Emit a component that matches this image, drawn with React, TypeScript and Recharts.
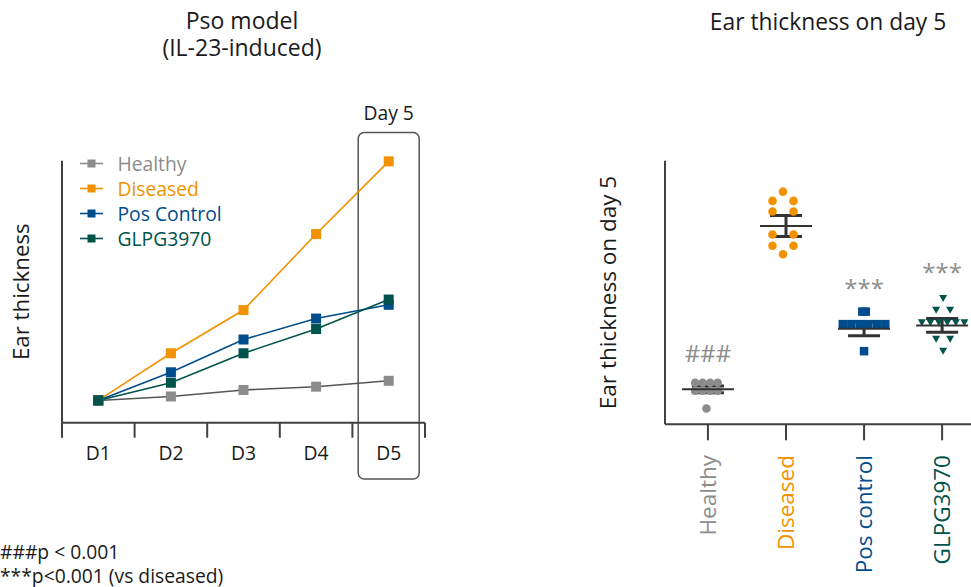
import React from 'react';
import {
  LineChart,
  Line,
  XAxis,
  YAxis,
  Legend,
  ReferenceArea,
  ScatterChart,
  Scatter,
  ErrorBar,
  ReferenceDot,
} from 'recharts';

const FONT = '"Open Sans", "Noto Sans", sans-serif';
const AXIS = '#404040';
const GRAY = '#8c8c8c';
const GRAY_LINE = '#555555';
const ORANGE = '#f39200';
const BLUE = '#004c8c';
const GREEN = '#00534b';

// time course (left panel)
const days = ['D1', 'D2', 'D3', 'D4', 'D5'];
const healthyTrend = [0.34, 0.4, 0.5, 0.55, 0.64];
const diseasedTrend = [0.34, 1.06, 1.72, 2.88, 3.99];
const posControlTrend = [0.34, 0.77, 1.27, 1.59, 1.8];
const glpgTrend = [0.34, 0.61, 1.06, 1.43, 1.88];

// day 5 individual animals (right panel)
const groups = ['Healthy', 'Diseased', 'Pos control', 'GLPG3970'];
const healthyDay5 = [0.63, 0.63, 0.63, 0.63, 0.51, 0.51, 0.51, 0.51, 0.24];
const diseasedDay5 = [3.53, 3.39, 3.39, 3.23, 3.23, 2.88, 2.88, 2.71, 2.71, 2.58];
const posControlDay5 = [1.71, 1.71, 1.52, 1.52, 1.52, 1.52, 1.52, 1.52, 1.11];
const glpgDay5 = [1.91, 1.73, 1.73, 1.54, 1.54, 1.54, 1.54, 1.54, 1.54, 1.29, 1.29, 1.11];
const groupMeans = [0.53, 3.01, 1.45, 1.5];
const groupSems = [0.05, 0.16, 0.105, 0.105];
const significance = ['###', '', '***', '***'];
const significanceHeight = [1.08, 0, 2.06, 2.31];

const trendData = days.map((d, i) => ({
  x: i + 1,
  healthy: healthyTrend[i],
  diseased: diseasedTrend[i],
  pos: posControlTrend[i],
  glpg: glpgTrend[i],
}));

const trendSeries = [
  { key: 'healthy', name: 'Healthy', color: GRAY, line: GRAY_LINE },
  { key: 'diseased', name: 'Diseased', color: ORANGE, line: ORANGE },
  { key: 'pos', name: 'Pos Control', color: BLUE, line: BLUE },
  { key: 'glpg', name: 'GLPG3970', color: GREEN, line: GREEN },
];

// left plot: x 62..425, y 160.7..422.7
const L_PLOT_W = 363;
const BAND = L_PLOT_W / days.length;
const LEFT_FS = 19.3;
const RIGHT_FS = 22.5;

// right plot: x 665..971
const R_DOMAIN: [number, number] = [0.45, 4.37];
const R_PLOT_W = 306;
const UNIT_PX = R_PLOT_W / (R_DOMAIN[1] - R_DOMAIN[0]);

const swarm = (values: number[], pairGap: number, rowGap: number) => {
  const counts = new Map<number, number>();
  values.forEach((v) => counts.set(v, (counts.get(v) ?? 0) + 1));
  const seen = new Map<number, number>();
  return values.map((v) => {
    const n = counts.get(v)!;
    const k = seen.get(v) ?? 0;
    seen.set(v, k + 1);
    const gap = n <= 2 ? pairGap : rowGap;
    return (k - (n - 1) / 2) * gap;
  });
};

const dotGroups = [
  { values: healthyDay5, color: GRAY, shape: 'circle', pairGap: 7.5, rowGap: 7.5, shift: -1.5 },
  { values: diseasedDay5, color: ORANGE, shape: 'circle', pairGap: 21, rowGap: 21, shift: -3 },
  { values: posControlDay5, color: BLUE, shape: 'square', pairGap: 3.5, rowGap: 8.5, shift: 0 },
  { values: glpgDay5, color: GREEN, shape: 'triangle', pairGap: 14, rowGap: 8.5, shift: 1 },
].map((g, gi) => {
  const offs = swarm(g.values, g.pairGap, g.rowGap);
  return {
    ...g,
    data: g.values.map((v, i) => ({ x: gi + 1 + (offs[i] + g.shift) / UNIT_PX, y: v })),
  };
});

const summaryData = groups.map((_, i) => ({ x: i + 1, y: groupMeans[i], sem: groupSems[i] }));

const markShape = (kind: string, color: string) => (p: any) => {
  const { cx, cy } = p;
  if (kind === 'square') {
    return <rect x={cx - 4.25} y={cy - 4.25} width={8.5} height={8.5} fill={color} />;
  }
  if (kind === 'triangle') {
    return <polygon points={`${cx - 4},${cy - 3.5} ${cx + 4},${cy - 3.5} ${cx},${cy + 3.5}`} fill={color} />;
  }
  return <circle cx={cx} cy={cy} r={4.3} fill={color} />;
};

const meanShape = (p: any) => (
  <line x1={p.cx - 26} x2={p.cx + 26} y1={p.cy} y2={p.cy} stroke="#333" strokeWidth={2} />
);

const DayTick = (props: any) => {
  const { x, y, index } = props;
  if (index >= days.length) return <g />;
  return (
    <text x={x + BAND / 2} y={y} dy={20} textAnchor="middle" fill="#1a1a1a" fontSize={LEFT_FS} fontFamily={FONT}>
      {days[index]}
    </text>
  );
};

const groupColors = [GRAY, ORANGE, BLUE, GREEN];

const GroupTick = (props: any) => {
  const { x, y, index } = props;
  const ty = y + 12.7;
  return (
    <text
      x={x}
      y={ty}
      dy="0.35em"
      textAnchor="end"
      transform={`rotate(-90, ${x}, ${ty})`}
      fill={groupColors[index]}
      fontSize={RIGHT_FS}
      fontFamily={FONT}
    >
      {groups[index]}
    </text>
  );
};

const TrendLegend = () => (
  <div style={{ fontFamily: FONT, fontSize: LEFT_FS, lineHeight: '25px' }}>
    {trendSeries.map((s) => (
      <div key={s.key} style={{ display: 'flex', alignItems: 'center', color: s.color, height: 25 }}>
        <svg width={39.5} height={25}>
          <line x1={2} x2={25} y1={12.5} y2={12.5} stroke={s.color} strokeWidth={1.6} />
          <rect x={9.5} y={8.5} width={8} height={8} fill={s.color} />
        </svg>
        <span>{s.name}</span>
      </div>
    ))}
  </div>
);

const text = (style: React.CSSProperties, content: React.ReactNode) => (
  <div style={{ position: 'absolute', whiteSpace: 'nowrap', ...style }}>{content}</div>
);

export default function App() {
  return (
    <div
      style={{
        position: 'absolute',
        left: 0,
        top: 0,
        width: 971,
        height: 587,
        overflow: 'hidden',
        background: '#fff',
        fontFamily: FONT,
        color: '#1a1a1a',
      }}
    >
      {text({ left: 92, top: 6.5, width: 300, textAlign: 'center', fontSize: 23, lineHeight: '27px' }, (
        <>
          Pso model
          <br />
          (IL-23-induced)
        </>
      ))}
      {text({ left: 678, top: 7.5, width: 300, textAlign: 'center', fontSize: 22.8, lineHeight: '27px' }, 'Ear thickness on day 5')}
      {text({ left: 0, top: 540, fontSize: LEFT_FS, lineHeight: '24px' }, (
        <>
          ###p &lt; 0.001
          <br />
          ***p&lt;0.001 (vs diseased)
        </>
      ))}

      <div style={{ position: 'absolute', left: 0, top: 0 }}>
        <LineChart
          width={440}
          height={587}
          data={trendData}
          margin={{ top: 160.7, right: 15, bottom: 124.3, left: 0 }}
        >
          <XAxis
            dataKey="x"
            type="number"
            domain={[0.5, 5.5]}
            ticks={[0.5, 1.5, 2.5, 3.5, 4.5, 5.5]}
            height={40}
            tickSize={15}
            stroke={AXIS}
            strokeWidth={2}
            tick={<DayTick />}
          />
          <YAxis
            type="number"
            domain={[0, 4]}
            ticks={[0, 1, 2, 3, 4]}
            width={62}
            tickSize={15}
            tick={false}
            stroke={AXIS}
            strokeWidth={2}
            label={{
              value: 'Ear thickness',
              angle: -90,
              position: 'insideLeft',
              offset: 21.3,
              fontSize: 22.3,
              fill: '#1a1a1a',
              fontFamily: FONT,
              style: { textAnchor: 'middle' },
            }}
          />
          <ReferenceArea
            x1={4.58}
            x2={5.42}
            y1={-0.86}
            y2={4.43}
            ifOverflow="visible"
            shape={(p: any) => (
              <rect x={p.x} y={p.y} width={p.width} height={p.height} rx={6} fill="none" stroke="#555" strokeWidth={1.5} />
            )}
            label={{ value: 'Day 5', position: 'top', offset: 13, fontSize: LEFT_FS, fill: '#1a1a1a', fontFamily: FONT }}
          />
          <Legend
            layout="horizontal"
            verticalAlign="middle"
            align="center"
            wrapperStyle={{ left: 78, top: 151, width: 'auto', height: 'auto' }}
            content={() => <TrendLegend />}
          />
          {trendSeries.map((s) => (
            <Line
              key={s.key}
              dataKey={s.key}
              name={s.name}
              stroke={s.line}
              strokeWidth={1.6}
              isAnimationActive={false}
              dot={(p: any) => (
                <rect key={`${s.key}-${p.index}`} x={p.cx - 5} y={p.cy - 5} width={10} height={10} fill={s.color} />
              )}
              activeDot={false}
            />
          ))}
        </LineChart>
      </div>

      <div style={{ position: 'absolute', left: 560, top: 0 }}>
        <ScatterChart width={411} height={587} margin={{ top: 160.7, right: 0, bottom: 122.7, left: 0 }}>
          <XAxis
            dataKey="x"
            type="number"
            domain={R_DOMAIN}
            ticks={[1, 2, 3, 4]}
            height={40}
            tickSize={16}
            stroke={AXIS}
            strokeWidth={2}
            tick={<GroupTick />}
            allowDataOverflow
          />
          <YAxis
            dataKey="y"
            type="number"
            domain={[0, 4]}
            ticks={[0, 1, 2, 3, 4]}
            width={105}
            tickSize={17}
            tick={false}
            stroke={AXIS}
            strokeWidth={2}
            label={{
              value: 'Ear thickness on day 5',
              angle: -90,
              position: 'insideLeft',
              offset: 48.5,
              fontSize: RIGHT_FS,
              fill: '#1a1a1a',
              fontFamily: FONT,
              style: { textAnchor: 'middle' },
            }}
          />
          {dotGroups.map((g, i) => (
            <Scatter
              key={groups[i]}
              name={groups[i]}
              data={g.data}
              shape={markShape(g.shape, g.color)}
              isAnimationActive={false}
            />
          ))}
          <Scatter name="mean" data={summaryData} shape={meanShape} isAnimationActive={false}>
            <ErrorBar dataKey="sem" direction="y" width={16} strokeWidth={3} stroke="#333" />
          </Scatter>
          {significance.map((s, i) =>
            s ? (
              <ReferenceDot
                key={`sig-${i}`}
                x={i + 1}
                y={significanceHeight[i]}
                r={0}
                fill="none"
                stroke="none"
                label={{ value: s, position: 'center', fill: GRAY, fontSize: 24, fontFamily: FONT }}
              />
            ) : null
          )}
        </ScatterChart>
      </div>
    </div>
  );
}
